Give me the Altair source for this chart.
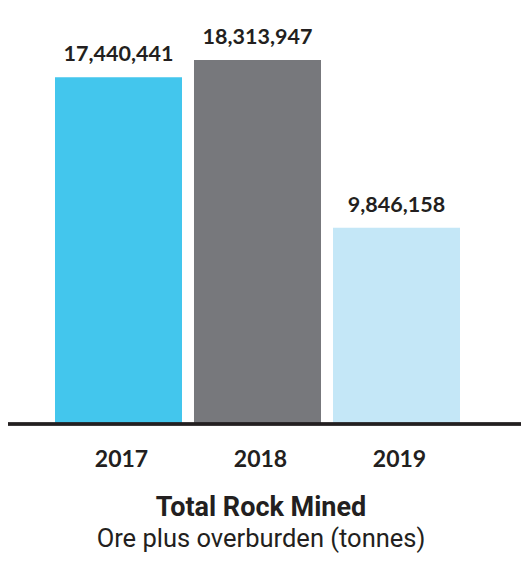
import altair as alt
import pandas as pd

years = ["2017", "2018", "2019"]
values = [17440441, 18313947, 9846158]
colors = ["#43C6ED", "#77787C", "#C4E7F7"]
title_text = "Total Rock Mined"
subtitle_text = "Ore plus overburden (tonnes)"

df = pd.DataFrame({"year": years, "value": values, "color": colors})
titles = pd.DataFrame({"t": [title_text], "s": [subtitle_text]})

xscale = alt.Scale(domain=years, range=[47, 452], paddingInner=0.0863, paddingOuter=0)
yscale = alt.Scale(domain=[0, max(values)], range=[415, 52])

base = alt.Chart(df)

bars = base.mark_bar().encode(
    x=alt.X("year:N", scale=xscale, axis=None),
    y=alt.Y("value:Q", scale=yscale, axis=None),
    color=alt.Color("color:N", scale=None),
)

vals = base.mark_text(
    font="Lato", fontWeight="bold", fontSize=21.5, baseline="alphabetic",
    dy=-16, color="#231F20"
).encode(
    x=alt.X("year:N", scale=xscale, axis=None),
    y=alt.Y("value:Q", scale=yscale, axis=None),
    text=alt.Text("value:Q", format=","),
)

yrs = base.mark_text(
    font="Lato", fontWeight="bold", fontSize=23, baseline="alphabetic",
    color="#231F20", dx=3
).encode(
    x=alt.X("year:N", scale=xscale, axis=None),
    y=alt.value(459),
    text="year:N",
)

rule = base.mark_rule(color="#231F20", strokeWidth=3).encode(
    x=alt.value(0), x2=alt.value(513), y=alt.value(416)
)

tbase = alt.Chart(titles)
t1 = tbase.mark_text(
    font="Roboto", fontWeight="bold", fontSize=27, baseline="alphabetic",
    color="#231F20"
).encode(x=alt.value(253), y=alt.value(507.5), text="t:N")
t2 = tbase.mark_text(
    font="Roboto", fontSize=25.5, baseline="alphabetic", color="#231F20"
).encode(x=alt.value(253), y=alt.value(538.5), text="s:N")

chart = alt.layer(bars, rule, vals, yrs, t1, t2).properties(
    width=513, height=545, padding=0, autosize=alt.AutoSizeParams(type="none")
).configure_view(stroke=None)

chart.save("out.html", embed_options={"renderer": "svg", "actions": False})
